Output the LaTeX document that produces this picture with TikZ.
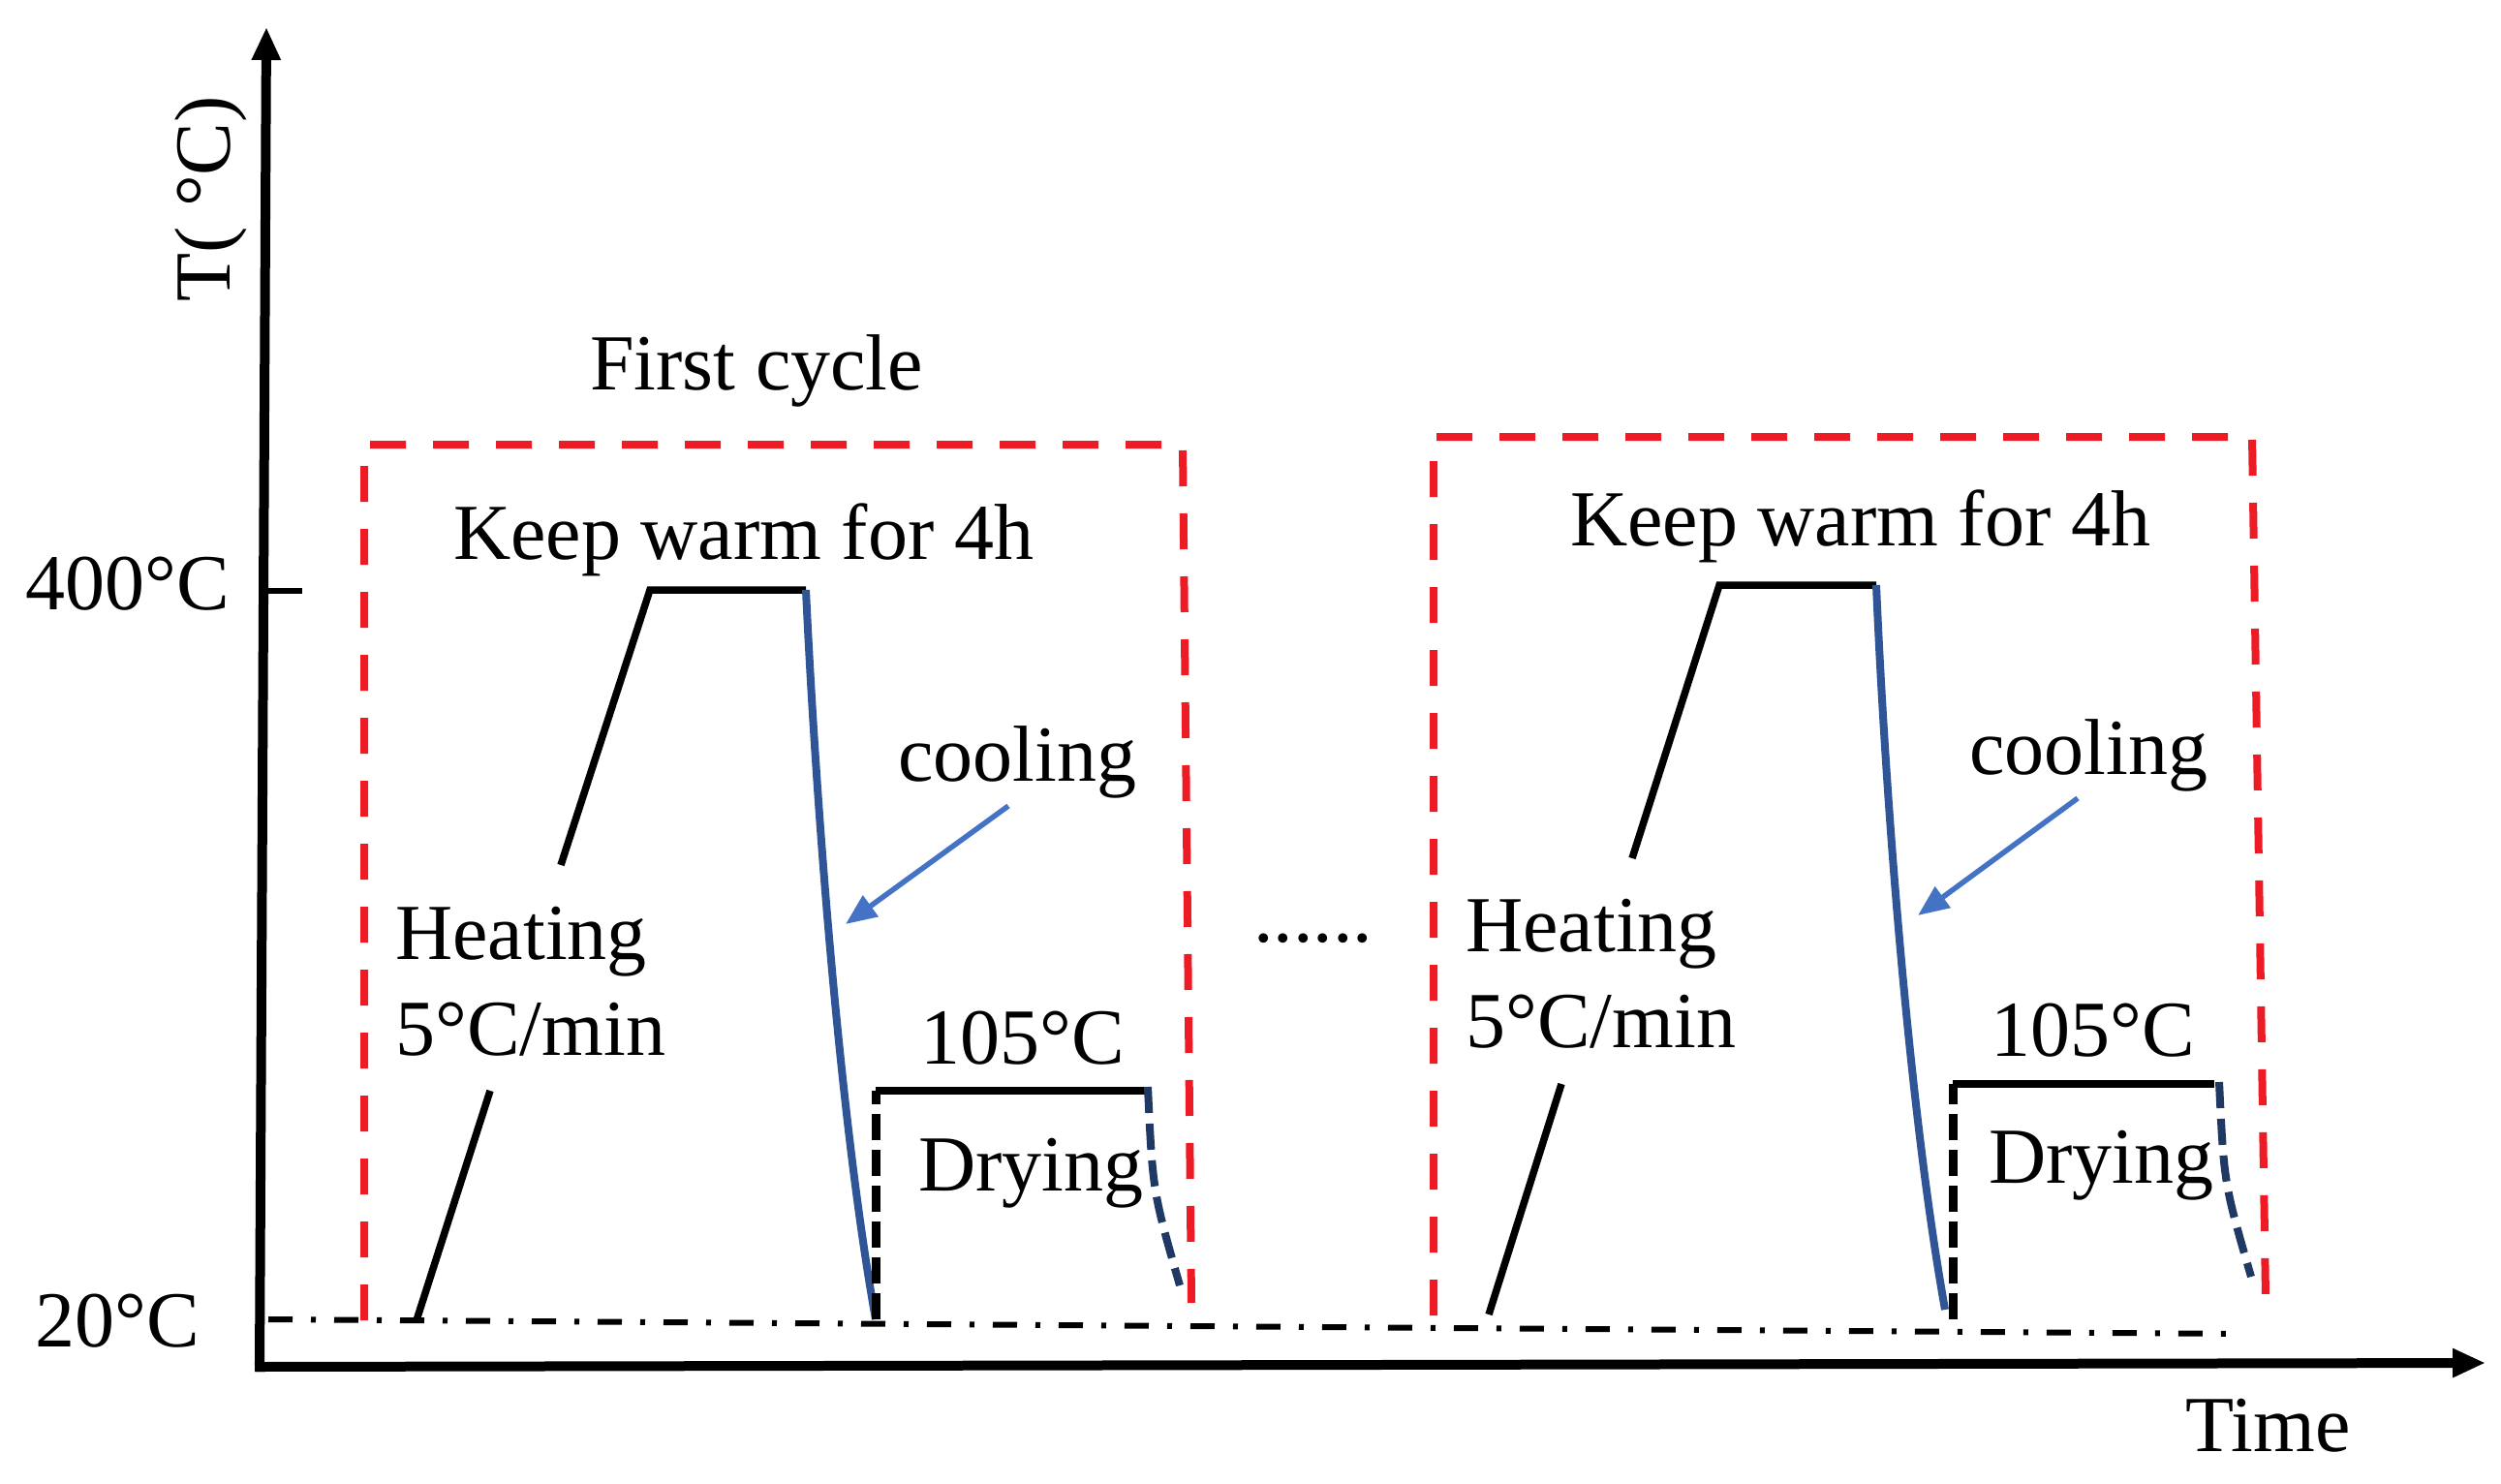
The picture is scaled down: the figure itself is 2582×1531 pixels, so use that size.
\documentclass[tikz,border=0pt]{standalone}
\usepackage{fontspec}
\setmainfont{Liberation Serif}
\usetikzlibrary{arrows.meta}
\definecolor{boxred}{HTML}{ED1C24}
\definecolor{coolblue}{HTML}{2F5597}
\definecolor{arrowblue}{HTML}{4472C4}
\definecolor{navyc}{HTML}{1F3864}
\begin{document}
\begin{tikzpicture}[x=1pt,y=-1pt,
  lbl/.style={font=\fontsize{82}{98}\selectfont, inner sep=0pt, anchor=base west},
  redbox/.style={draw=boxred, line width=8pt, dash pattern=on 37pt off 28pt},
  ramp/.style={draw=black, line width=7.5pt},
  coolline/.style={draw=coolblue, line width=8pt},
  coolarrow/.style={draw=arrowblue, line width=5.5pt, -{Triangle[length=32pt,width=26pt]}},
  dryline/.style={draw=black, line width=9pt, dash pattern=on 27pt off 10pt},
  tailline/.style={draw=navyc, line width=8pt, dash pattern=on 27pt off 11pt},
  refline/.style={draw=black, line width=6pt, dash pattern=on 25pt off 19pt on 5pt off 19pt},
  axisline/.style={draw=black, line width=10pt, -{Triangle[length=34pt,width=28pt]}}
]
\useasboundingbox (0,0) rectangle (2582,1531);

% axes
\coordinate (yo) at (268,1416);
\coordinate (ytip) at (275,28);
\draw[axisline] (yo) -- (ytip);
\coordinate (xo) at (263,1411);
\coordinate (xtip) at (2566,1407);
\draw[axisline] (xo) -- (xtip);
\coordinate (tk1) at (277,610);
\coordinate (tk2) at (312,610);
\draw[line width=6pt] (tk1) -- (tk2);

\node[lbl, rotate=90] (ylab) at (237,312) {T( °C)};
\node[lbl] (t400) at (26,629) {400°C};
\node[lbl] (t20) at (36,1390) {20°C};
\node[lbl] (time) at (2256,1498) {Time};

% reference line
\coordinate (r1) at (277,1362);
\coordinate (r2) at (2313,1377);
\draw[refline] (r1) -- (r2);

% ---------- cycle 1 ----------
\node[lbl] (first) at (609,402) {First cycle};
\coordinate (b1a) at (376,1363);
\coordinate (b1b) at (376,459);
\coordinate (b1c) at (1221,459);
\coordinate (b1d) at (1230,1345);
\draw[redbox] (b1a) -- (b1b) -- (b1c) -- (b1d);

\coordinate (h1a) at (430,1363);
\coordinate (h1b) at (506,1126);
\coordinate (h1c) at (579,893);
\coordinate (p1a) at (671,609);
\coordinate (p1b) at (832,609);
\coordinate (c1b) at (904,1362);
\draw[ramp] (h1a) -- (h1b);
\draw[ramp] (h1c) -- (p1a) -- (p1b);
\draw[coolline] (p1b) .. controls (842,820) and (866,1150) .. (c1b);
\coordinate (a1s) at (1041,832);
\coordinate (a1e) at (873,954);
\draw[coolarrow] (a1s) -- (a1e);
\coordinate (d1a) at (904,1126);
\coordinate (d1b) at (1183,1126);
\draw[dryline] (c1b) -- (d1a);
\draw[ramp] (d1a) -- (d1b);
\coordinate (e1a) at (1185,1122);
\coordinate (e1b) at (1218,1327);
\draw[tailline] (e1a) .. controls (1190,1230) .. (e1b);

\node[lbl] (keep1) at (468,577) {Keep warm for 4h};
\node[lbl] (cool1) at (927,806) {cooling};
\node[lbl] (heat1) at (408,990) {Heating};
\node[lbl] (rate1) at (408,1089) {5°C/min};
\node[lbl] (t105a) at (950,1098) {105°C};
\node[lbl] (dry1) at (948,1229) {Drying};

\node[lbl] (dots) at (1294,972) {......};

% ---------- cycle 2 ----------
\coordinate (b2a) at (1480,1358);
\coordinate (b2b) at (1480,451);
\coordinate (b2c) at (2325,451);
\coordinate (b2d) at (2339,1340);
\draw[redbox] (b2a) -- (b2b) -- (b2c) -- (b2d);

\coordinate (h2a) at (1537,1357);
\coordinate (h2b) at (1612,1119);
\coordinate (h2c) at (1685,886);
\coordinate (p2a) at (1775,604);
\coordinate (p2b) at (1937,604);
\coordinate (c2b) at (2008,1352);
\draw[ramp] (h2a) -- (h2b);
\draw[ramp] (h2c) -- (p2a) -- (p2b);
\draw[coolline] (p2b) .. controls (1946,814) and (1970,1140) .. (c2b);
\coordinate (a2s) at (2145,824);
\coordinate (a2e) at (1980,945);
\draw[coolarrow] (a2s) -- (a2e);
\coordinate (g2a) at (2016,1362);
\coordinate (d2a) at (2016,1119);
\coordinate (d2b) at (2286,1119);
\draw[dryline] (g2a) -- (d2a);
\draw[ramp] (d2a) -- (d2b);
\coordinate (e2a) at (2291,1117);
\coordinate (e2b) at (2324,1318);
\draw[tailline] (e2a) .. controls (2296,1222) .. (e2b);

\node[lbl] (keep2) at (1621,563) {Keep warm for 4h};
\node[lbl] (cool2) at (2033,799) {cooling};
\node[lbl] (heat2) at (1513,982) {Heating};
\node[lbl] (rate2) at (1513,1081) {5°C/min};
\node[lbl] (t105b) at (2055,1090) {105°C};
\node[lbl] (dry2) at (2053,1221) {Drying};
\end{tikzpicture}
\end{document}
